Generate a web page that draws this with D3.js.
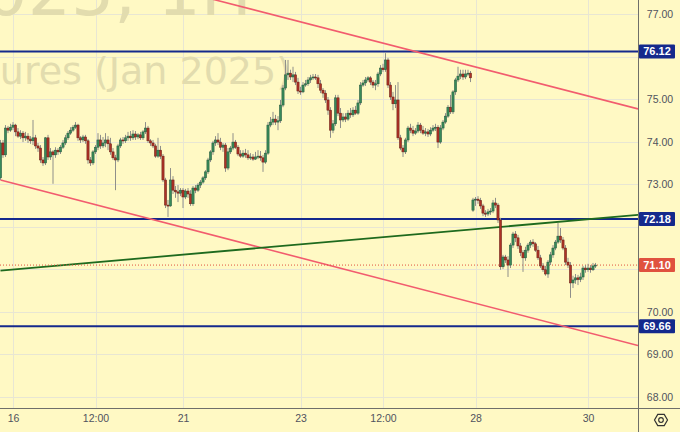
<!DOCTYPE html>
<html><head><meta charset="utf-8">
<script src="https://cdn.jsdelivr.net/npm/d3@7"></script>
<style>html,body{margin:0;padding:0;background:#fff9c4;} svg{display:block;}</style>
</head><body><svg id="c" width="680" height="432"></svg>
<script>
// Hourly OHLC, Brent Crude Oil Futures (Jan 2025)
const openP=[
73.15,73.97,73.69,74.32,74.27,74.34,74.39,74.23,74.13,74.20,
74.09,74.13,74.06,74.02,74.09,73.90,73.85,73.57,73.50,74.09,
73.64,73.76,73.69,73.80,73.76,73.87,73.97,74.09,74.20,74.27,
74.34,74.39,74.09,74.04,74.11,74.02,73.57,73.50,73.76,73.87,
74.04,73.90,73.97,74.04,73.95,73.76,73.62,73.57,73.90,74.04,
74.02,74.09,74.13,74.09,74.18,74.11,74.16,74.09,74.23,74.32,
74.02,73.97,73.90,73.66,73.80,73.66,73.10,72.51,72.49,73.10,
72.86,72.82,72.79,72.86,72.70,72.84,72.77,72.54,72.91,72.86,
72.98,73.05,73.15,73.29,73.57,73.76,73.97,74.04,73.99,73.87,
73.92,73.38,73.76,73.85,73.99,73.87,73.71,73.66,73.73,73.69,
73.62,73.64,73.59,73.64,73.66,73.62,73.52,73.73,74.39,74.46,
74.53,74.46,74.49,74.86,75.26,75.57,75.61,75.52,75.57,75.40,
75.19,75.17,75.33,75.36,75.45,75.50,75.52,75.50,75.36,75.21,
75.14,74.98,74.74,74.27,74.42,75.03,74.67,74.51,74.58,74.53,
74.67,74.63,74.74,74.67,74.91,75.33,75.38,75.45,75.50,75.40,
75.33,75.36,75.59,75.73,75.69,75.92,75.33,75.05,74.89,74.98,
74.09,73.85,73.76,74.04,74.32,74.27,74.20,74.25,74.39,74.27,
74.20,74.23,74.18,74.27,74.32,74.34,73.99,74.32,74.46,74.60,
74.81,74.70,75.17,75.45,75.54,75.59,75.52,75.59,75.61,72.39,
72.63,72.65,72.62,72.49,72.32,72.30,72.35,72.37,72.56,72.51,
72.16,71.06,71.29,71.22,71.10,71.57,71.83,71.74,71.55,71.39,
71.27,71.45,71.57,71.64,71.60,71.45,71.27,71.08,70.99,70.89,
71.17,71.34,71.50,71.64,71.78,71.69,71.50,71.17,71.10,70.68,
70.75,70.80,70.76,70.82,71.03,70.99,71.03,70.99,71.08];
const highP=[
74.04,74.04,74.39,74.37,74.42,74.46,74.42,74.32,74.27,74.25,
74.23,74.20,74.13,74.51,74.16,73.97,73.92,73.64,74.11,74.16,
73.85,73.80,73.87,73.85,73.92,74.04,74.16,74.25,74.34,74.39,
74.46,74.42,74.13,74.16,74.16,74.06,73.64,73.80,73.92,74.20,
74.16,74.11,74.20,74.13,74.09,73.85,73.69,73.95,74.09,74.11,
74.16,74.23,74.25,74.27,74.25,74.20,74.23,74.27,74.46,74.37,
74.06,74.04,73.95,74.09,73.90,73.71,73.15,72.63,73.38,73.19,
72.96,72.98,72.91,72.91,72.89,72.91,72.86,72.96,72.98,73.03,
73.10,73.19,73.33,73.62,73.80,74.02,74.13,74.20,74.09,73.97,
73.97,73.85,73.90,74.20,74.04,73.92,73.80,73.80,73.83,73.80,
73.73,73.71,73.76,73.80,73.78,73.69,73.80,74.46,74.58,74.70,
74.63,74.60,74.98,75.33,75.92,75.92,75.69,75.76,75.64,75.50,
75.29,75.40,75.45,75.52,75.57,75.59,75.59,75.57,75.45,75.26,
75.21,75.05,74.81,74.51,75.10,75.10,74.79,74.67,74.67,74.74,
74.79,74.81,74.84,74.98,75.40,75.45,75.52,75.54,75.54,75.45,
75.45,75.64,75.80,75.83,76.08,75.97,75.40,75.17,75.33,75.40,
74.16,73.92,74.09,74.37,74.42,74.37,74.32,74.46,74.44,74.37,
74.32,74.30,74.34,74.39,74.42,74.39,74.39,74.51,74.67,74.86,
75.10,75.21,75.50,75.76,75.69,75.69,75.69,75.69,75.66,72.68,
72.70,72.72,72.68,72.54,72.39,72.42,72.44,72.63,72.68,72.56,
72.21,71.34,71.34,71.31,71.62,71.88,71.90,71.81,71.62,71.45,
71.53,71.62,71.69,71.71,71.64,71.55,71.34,71.15,71.08,71.22,
71.41,71.57,71.69,72.09,71.97,71.76,71.57,71.27,71.17,70.85,
70.89,70.87,70.92,71.08,71.10,71.13,71.10,71.15,71.15];
const lowP=[
73.10,73.62,73.64,74.20,74.23,74.27,74.13,74.09,74.06,73.99,
74.02,73.97,73.95,73.92,73.83,73.76,73.50,73.43,73.45,73.57,
73.57,73.01,73.62,73.69,73.71,73.83,73.92,74.04,74.16,74.23,
74.30,74.02,73.97,73.99,73.95,73.48,73.43,73.45,73.71,73.80,
73.83,73.85,73.87,73.80,73.69,73.57,72.86,73.52,73.85,73.95,
73.97,74.02,74.02,74.04,74.04,74.06,74.04,74.04,74.18,73.97,
73.90,73.85,73.62,73.62,73.59,73.05,72.44,72.23,72.47,72.77,
72.68,72.58,72.72,72.44,72.65,72.68,72.49,72.49,72.79,72.82,
72.91,73.01,73.10,73.24,73.52,73.69,73.90,73.92,73.80,73.76,
73.29,73.33,73.71,73.80,73.83,73.66,73.62,73.62,73.62,73.57,
73.57,73.55,73.57,73.59,73.55,73.29,73.48,73.69,74.34,74.39,
74.39,74.27,74.44,74.81,75.21,75.45,75.45,75.40,75.33,75.12,
75.10,75.14,75.29,75.31,75.38,75.45,75.45,75.26,75.14,75.03,
74.91,74.63,74.09,74.20,74.37,74.60,74.32,74.46,74.46,74.49,
74.56,74.58,74.63,74.63,74.86,75.29,75.31,75.40,75.33,75.26,
75.21,75.29,75.54,75.64,75.64,75.26,74.98,74.74,74.79,74.04,
73.80,73.64,73.71,73.99,74.20,74.13,74.16,74.20,74.20,74.16,
74.13,74.11,74.13,74.23,74.25,73.85,73.95,74.27,74.42,74.56,
74.65,74.65,75.10,75.40,75.47,75.45,75.47,75.54,75.40,72.35,
72.49,72.54,72.42,72.25,72.23,72.25,72.28,72.32,72.44,72.09,
70.99,71.01,71.15,70.82,71.03,71.50,71.64,71.48,71.31,70.94,
71.20,71.39,71.50,71.53,71.41,71.22,71.03,70.94,70.85,70.80,
71.10,71.27,71.45,71.60,71.62,71.45,71.10,71.03,70.33,70.56,
70.66,70.63,70.70,70.75,70.92,70.94,70.92,70.96,71.03];
const closeP=[
73.97,73.69,74.32,74.27,74.34,74.39,74.23,74.13,74.20,74.09,
74.13,74.06,74.02,74.09,73.90,73.85,73.57,73.50,74.09,73.64,
73.76,73.69,73.80,73.76,73.87,73.97,74.09,74.20,74.27,74.34,
74.39,74.09,74.04,74.11,74.02,73.57,73.50,73.76,73.87,74.04,
73.90,73.97,74.04,73.95,73.76,73.62,73.57,73.90,74.04,74.02,
74.09,74.13,74.09,74.18,74.11,74.16,74.09,74.23,74.32,74.02,
73.97,73.90,73.66,73.80,73.66,73.10,72.51,72.49,73.10,72.86,
72.82,72.79,72.86,72.70,72.84,72.77,72.54,72.91,72.86,72.98,
73.05,73.15,73.29,73.57,73.76,73.97,74.04,73.99,73.87,73.92,
73.38,73.76,73.85,73.99,73.87,73.71,73.66,73.73,73.69,73.62,
73.64,73.59,73.64,73.66,73.62,73.52,73.73,74.39,74.46,74.53,
74.46,74.49,74.86,75.26,75.57,75.61,75.52,75.57,75.40,75.19,
75.17,75.33,75.36,75.45,75.50,75.52,75.50,75.36,75.21,75.14,
74.98,74.74,74.27,74.42,75.03,74.67,74.51,74.58,74.53,74.67,
74.63,74.74,74.67,74.91,75.33,75.38,75.45,75.50,75.40,75.33,
75.36,75.59,75.73,75.69,75.92,75.33,75.05,74.89,74.98,74.09,
73.85,73.76,74.04,74.32,74.27,74.20,74.25,74.39,74.27,74.20,
74.23,74.18,74.27,74.32,74.34,73.99,74.32,74.46,74.60,74.81,
74.70,75.17,75.45,75.54,75.59,75.52,75.59,75.61,75.50,72.63,
72.65,72.62,72.49,72.32,72.30,72.35,72.37,72.56,72.51,72.16,
71.06,71.29,71.22,71.10,71.57,71.83,71.74,71.55,71.39,71.27,
71.45,71.57,71.64,71.60,71.45,71.27,71.08,70.99,70.89,71.17,
71.34,71.50,71.64,71.78,71.69,71.50,71.17,71.10,70.68,70.75,
70.80,70.76,70.82,71.03,70.99,71.03,70.99,71.08,71.10];

const timeTickIdx=[5,38,73,120,153,190,235];
const timeTickLabels=["16","12:00","21","23","12:00","28","30"];
const priceTicks=[68,69,70,71,72,73,74,75,76,77];
const levelLines=[76.12,72.18,69.66];
const lastPrice=71.10;
const upperTrend=[[84,77.36],[255,74.77]];
const lowerTrend=[[0,73.10],[255,69.21]];
const greenTrend=[[0,70.97],[255,72.28]];
const watermark=["BRNF2025, 1H","Brent Crude Oil Futures (Jan 2025)"];

const W=680,H=432,plotR=638,plotB=408;
const svg=d3.select('#c');
const x=d3.scaleLinear().domain([0,255]).range([0.5,638]);
const y=d3.scaleLinear().domain([68,77]).range([397,14]);
const BG="#fff9c4", GRID="#e8e6d3", NAVY="#14298c", AX="#50535e";

svg.append('rect').attr('width',W).attr('height',H).attr('fill',BG);
svg.append('defs').append('clipPath').attr('id','plot').append('rect')
  .attr('x',0).attr('y',0).attr('width',plotR).attr('height',plotB);

// grid
const g=svg.append('g').attr('clip-path','url(#plot)');
g.selectAll('.hg').data(priceTicks).join('line')
  .attr('x1',0).attr('x2',plotR).attr('y1',d=>Math.round(y(d))+0.5).attr('y2',d=>Math.round(y(d))+0.5)
  .attr('stroke',GRID).attr('stroke-width',1);
g.selectAll('.vg').data(timeTickIdx).join('line')
  .attr('x1',d=>Math.round(x(d))+0.5).attr('x2',d=>Math.round(x(d))+0.5).attr('y1',0).attr('y2',plotB)
  .attr('stroke',GRID).attr('stroke-width',1);

// watermark
g.append('text').attr('x',252).attr('y',15).attr('text-anchor','end')
  .attr('font-family','DejaVu Sans').attr('font-size',68).attr('fill','#e2dcae').text(watermark[0]);
g.append('text').attr('x',291).attr('y',84).attr('text-anchor','end')
  .attr('font-family','DejaVu Sans').attr('font-size',38).attr('fill','#e2dcae').text(watermark[1]);

// level lines
g.selectAll('.lv').data(levelLines).join('line')
  .attr('x1',0).attr('x2',plotR).attr('y1',d=>y(d)).attr('y2',d=>y(d))
  .attr('stroke',NAVY).attr('stroke-width',2);

// trend lines
const ln=d3.line().x(d=>x(d[0])).y(d=>y(d[1]));
g.append('path').attr('d',ln(upperTrend)).attr('stroke','#f25c6e').attr('stroke-width',1.6).attr('fill','none');
g.append('path').attr('d',ln(lowerTrend)).attr('stroke','#f25c6e').attr('stroke-width',1.6).attr('fill','none');
g.append('path').attr('d',ln(greenTrend)).attr('stroke','#1e6a1e').attr('stroke-width',1.8).attr('fill','none');

// last price dotted
g.append('line').attr('x1',0).attr('x2',plotR).attr('y1',y(lastPrice)).attr('y2',y(lastPrice))
  .attr('stroke','#e0523f').attr('stroke-width',1).attr('stroke-dasharray','1,2');

// candles
const bars=closeP.map((c,i)=>({i,o:openP[i],h:highP[i],l:lowP[i],c}));
const cg=g.append('g');
cg.selectAll('.wick').data(bars).join('line')
  .attr('x1',d=>x(d.i)).attr('x2',d=>x(d.i)).attr('y1',d=>y(d.h)).attr('y2',d=>y(d.l))
  .attr('stroke','#8f8f8a').attr('stroke-width',1);
cg.selectAll('.body').data(bars).join('rect')
  .attr('x',d=>x(d.i)-1.1).attr('width',2.2)
  .attr('y',d=>y(Math.max(d.o,d.c)))
  .attr('height',d=>Math.max(1,Math.abs(y(d.o)-y(d.c))))
  .attr('fill',d=>d.c>=d.o?'#388a5a':'#ad3226')
  .attr('stroke',d=>d.c>=d.o?'#21533a':'#651c15').attr('stroke-width',0.5);

// axes frame
svg.append('line').attr('x1',plotR+0.5).attr('x2',plotR+0.5).attr('y1',0).attr('y2',H).attr('stroke','#6f6f6a').attr('stroke-width',1);
svg.append('line').attr('x1',0).attr('x2',W).attr('y1',plotB+0.5).attr('y2',plotB+0.5).attr('stroke','#6f6f6a').attr('stroke-width',1);

// price axis (ticks hidden behind the price labels are not drawn)
const labs=levelLines.map(v=>({v,fill:NAVY})).concat([{v:lastPrice,fill:'#e0523f'}]);
const shown=priceTicks.filter(t=>labs.every(l=>Math.abs(y(t)-y(l.v))>10));
const ya=svg.append('g').attr('transform',`translate(${plotR},0)`)
  .call(d3.axisRight(y).tickValues(shown).tickSize(0).tickPadding(0).tickFormat(d3.format('.2f')));
ya.select('.domain').remove();
ya.selectAll('text').attr('x',22).attr('text-anchor','middle').attr('fill',AX)
  .attr('font-family','Liberation Sans').attr('font-size',10.5);

// time axis
const xa=svg.append('g').attr('transform',`translate(0,${plotB})`)
  .call(d3.axisBottom(x).tickValues(timeTickIdx).tickSize(0).tickPadding(7).tickFormat((d,i)=>timeTickLabels[i]));
xa.select('.domain').remove();
xa.selectAll('text').attr('fill',AX).attr('font-family','Liberation Sans').attr('font-size',10.5);

// price labels
const lg=svg.append('g');
labs.forEach(d=>{
  lg.append('rect').attr('x',plotR+1).attr('y',y(d.v)-7).attr('width',36).attr('height',14).attr('fill',d.fill).attr('rx',1);
  lg.append('text').attr('x',plotR+19).attr('y',y(d.v)+4).attr('text-anchor','middle')
    .attr('font-family','Liberation Sans').attr('font-size',11).attr('font-weight','bold').attr('fill','#fff')
    .text(d3.format('.2f')(d.v));
});

// settings icon
const ic=svg.append('g').attr('transform','translate(661,420)');
const hex=d3.range(6).map(k=>{const a=Math.PI/3*k;return [6.5*Math.cos(a),6.5*Math.sin(a)];});
ic.append('path').attr('d','M'+hex.join('L')+'Z').attr('fill','none').attr('stroke','#333').attr('stroke-width',1.2);
ic.append('circle').attr('r',2.3).attr('fill','none').attr('stroke','#333').attr('stroke-width',1.2);
</script></body></html>
